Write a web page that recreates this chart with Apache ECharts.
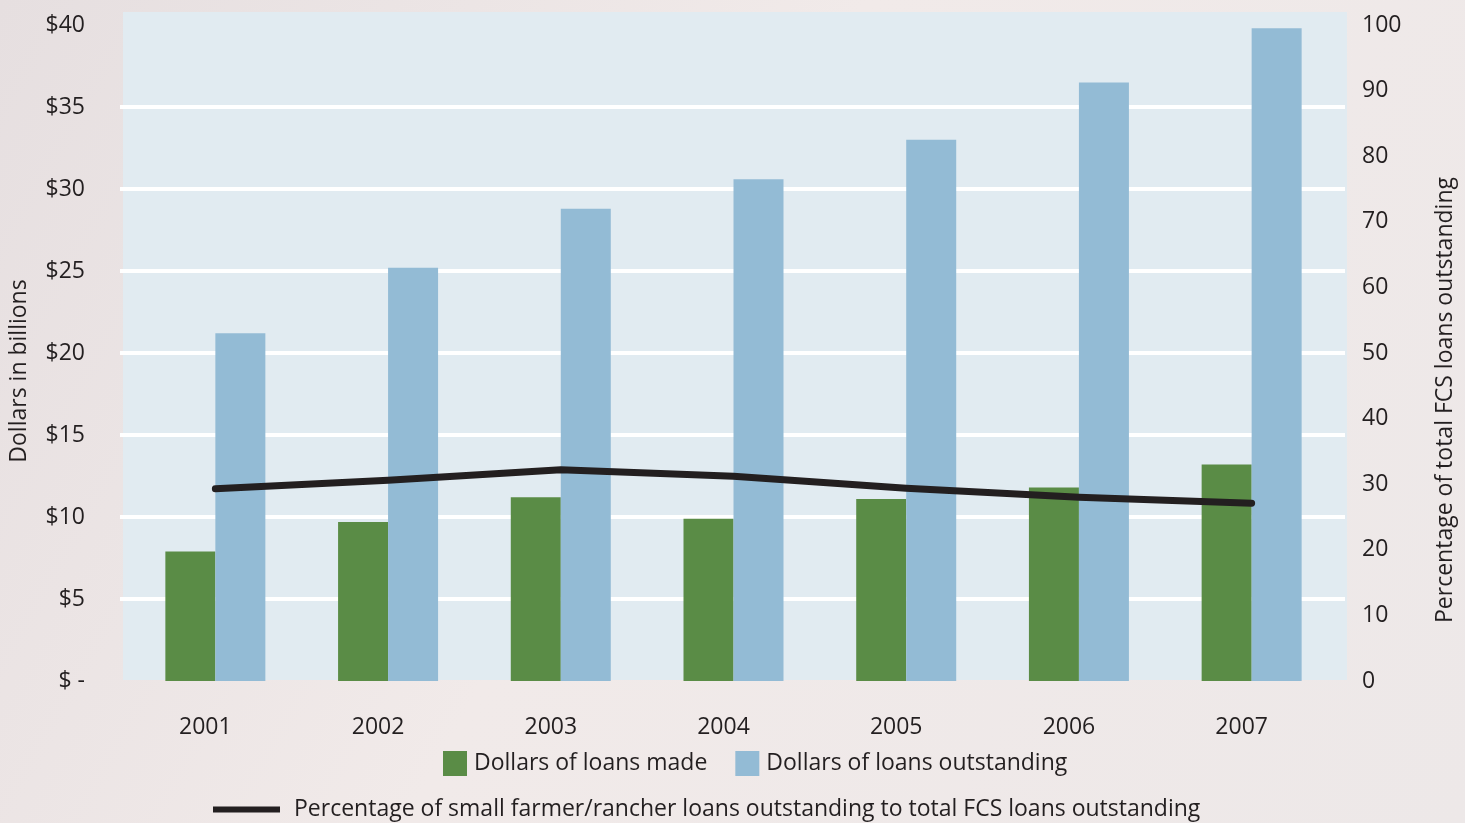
<!DOCTYPE html>
<html>
<head>
<meta charset="utf-8">
<title>FCS loans to small farmers and ranchers, 2001–2007</title>
<script src="https://cdn.jsdelivr.net/npm/echarts@6/dist/echarts.min.js"></script>
<style>
  html, body { margin: 0; padding: 0; }
  #chart { width: 1465px; height: 823px; }
</style>
</head>
<body>
<div id="chart"></div>
<script>
// Years on the category axis
const years = ['2001', '2002', '2003', '2004', '2005', '2006', '2007'];
// Dollars in billions
const loansMade = [7.9, 9.7, 11.2, 9.9, 11.1, 11.8, 13.2];
const loansOutstanding = [21.2, 25.2, 28.8, 30.6, 33.0, 36.5, 39.8];
// Percent of total FCS loans outstanding held by small farmers/ranchers
const smallSharePct = [29.3, 30.6, 32.2, 31.2, 29.4, 28.0, 27.1];

const seriesNames = [
  'Dollars of loans made',
  'Dollars of loans outstanding',
  'Percentage of small farmer/rancher loans outstanding to total FCS loans outstanding'
];

const FONT = '"Open Sans", "Noto Sans", sans-serif';
const FS = 23;
const INK = '#231f20';
const GREEN = '#5a8c46';
const BLUE = '#93bbd5';
const PANEL = '#e1ebf1';

const chart = echarts.init(document.getElementById('chart'), null, { renderer: 'canvas' });

chart.setOption({
  animation: false,
  backgroundColor: {
    type: 'linear', x: 0, y: 0, x2: 1, y2: 1,
    colorStops: [
      { offset: 0, color: '#e6dfe0' },
      { offset: 0.45, color: '#f1eae9' },
      { offset: 1, color: '#ede8e8' }
    ]
  },
  textStyle: { fontFamily: FONT, color: INK },
  graphic: [{
    type: 'rect',
    z: -10,
    silent: true,
    shape: { x: 123, y: 12, width: 1224, height: 668 },
    style: { fill: PANEL }
  }],
  grid: [
    { left: 128, right: 123, top: 25, bottom: 142 },
    { left: 120, right: 120, top: 25, bottom: 142 }
  ],
  xAxis: [
    {
      type: 'category',
      gridIndex: 0,
      data: years,
      axisLine: { show: false },
      axisTick: { show: false },
      axisLabel: {
        margin: 35,
        fontSize: FS,
        color: INK,
        fontFamily: FONT,
        padding: [0, 20, 0, 0]
      }
    },
    { type: 'value', gridIndex: 1, show: false, min: 0, max: 1 }
  ],
  yAxis: [
    {
      type: 'value',
      gridIndex: 0,
      min: 0, max: 40, interval: 5,
      name: 'Dollars in billions',
      nameLocation: 'middle',
      nameGap: 98,
      nameRotate: 90,
      nameTextStyle: { fontSize: FS, color: INK, fontFamily: FONT, padding: [0, 36, 0, 0] },
      axisLine: { show: false },
      axisTick: { show: false },
      splitLine: { show: false },
      axisLabel: {
        margin: 44,
        fontSize: FS,
        color: INK,
        fontFamily: FONT,
        formatter: v => (v === 0 ? '$ -' : '$' + v)
      }
    },
    {
      type: 'value',
      gridIndex: 0,
      position: 'right',
      min: 0, max: 100, interval: 10,
      name: 'Percentage of total FCS loans outstanding',
      nameLocation: 'middle',
      nameGap: 96,
      nameRotate: 90,
      nameTextStyle: { fontSize: FS, color: INK, fontFamily: FONT, padding: [0, 94, 0, 0] },
      axisLine: { show: false },
      axisTick: { show: false },
      splitLine: { show: false },
      axisLabel: { margin: 24, fontSize: FS, color: INK, fontFamily: FONT }
    },
    {
      // white guide lines across the panel
      type: 'value',
      gridIndex: 1,
      min: 0, max: 40, interval: 5,
      axisLine: { show: false },
      axisTick: { show: false },
      axisLabel: { show: false },
      splitLine: {
        show: true,
        showMinLine: false,
        showMaxLine: false,
        lineStyle: { color: '#ffffff', width: 4 }
      }
    }
  ],
  legend: [
    {
      data: [seriesNames[0], seriesNames[1]],
      left: 443,
      top: 751,
      padding: 0,
      icon: 'rect',
      itemWidth: 24,
      itemHeight: 25,
      itemGap: 28,
      textStyle: { fontSize: FS, color: INK, fontFamily: FONT, padding: [0, 0, 0, 2] }
    },
    {
      data: [{ name: seriesNames[2], icon: 'rect' }],
      left: 213,
      top: 798,
      padding: 0,
      itemWidth: 67,
      itemHeight: 6,
      textStyle: { fontSize: FS, color: INK, fontFamily: FONT, padding: [0, 0, 0, 9] }
    }
  ],
  series: [
    {
      name: seriesNames[0],
      type: 'bar',
      xAxisIndex: 0, yAxisIndex: 0,
      data: loansMade,
      barWidth: 50,
      barGap: '0%',
      itemStyle: { color: GREEN },
      z: 3
    },
    {
      name: seriesNames[1],
      type: 'bar',
      xAxisIndex: 0, yAxisIndex: 0,
      data: loansOutstanding,
      barWidth: 50,
      barGap: '0%',
      itemStyle: { color: BLUE },
      z: 3
    },
    {
      name: seriesNames[2],
      type: 'line',
      xAxisIndex: 0, yAxisIndex: 1,
      data: smallSharePct,
      showSymbol: false,
      symbol: 'none',
      itemStyle: { color: INK },
      lineStyle: { color: INK, width: 7, cap: 'round', join: 'round' },
      z: 5
    }
  ]
});
</script>
</body>
</html>
